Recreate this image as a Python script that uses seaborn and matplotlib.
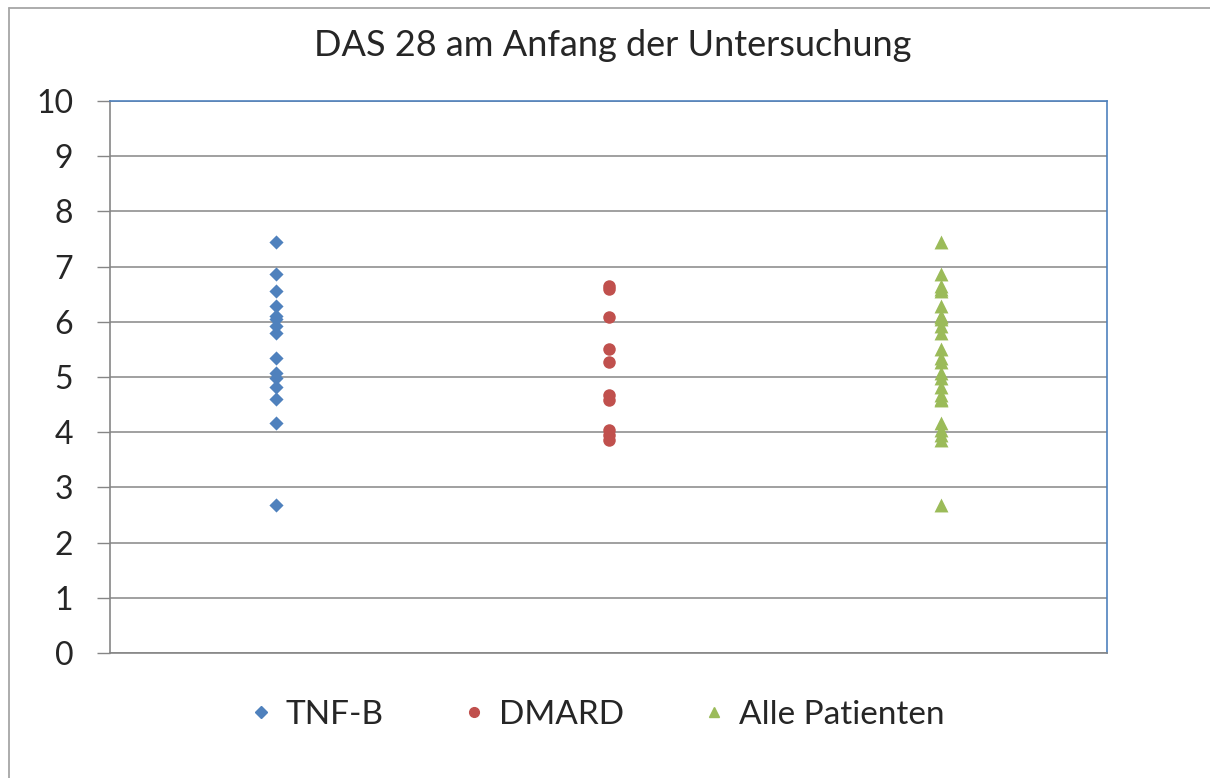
import matplotlib
matplotlib.use("Agg")
import matplotlib.pyplot as plt
import seaborn as sns
from matplotlib.lines import Line2D

categories = ["TNF-B", "DMARD", "Alle Patienten"]
tnf_b = [7.45, 6.87, 6.55, 6.28, 6.10, 6.05, 5.93, 5.80, 5.35, 5.08, 4.98, 4.82, 4.60, 4.17, 2.68]
dmard = [6.65, 6.60, 6.08, 5.50, 5.27, 4.67, 4.58, 4.04, 3.95, 3.86]
alle = [7.45, 6.87, 6.65, 6.60, 6.55, 6.28, 6.10, 6.08, 6.05, 5.93, 5.80, 5.50, 5.35,
        5.27, 5.08, 4.98, 4.82, 4.67, 4.60, 4.58, 4.17, 4.04, 3.95, 3.86, 2.68]
yticks = list(range(0, 11))
title = "DAS 28 am Anfang der Untersuchung"

colors = ["#4f81bd", "#c0504d", "#9bbb59"]
markers = ["D", "o", "^"]
sizes = [7.2, 9, 10]

sns.set_style("white")
plt.rcParams['font.family'] = ['Lato', 'DejaVu Sans']

fig = plt.figure(figsize=(12.1, 7.78), dpi=100)
ax = fig.add_axes([110/1210, 1-653/778, (1107-110)/1210, (653-101)/778])

series = [tnf_b, dmard, alle]
for cat, vals, c, m, s in zip(categories, series, colors, markers, sizes):
    sns.stripplot(x=[cat]*len(vals), y=vals, order=categories, jitter=False,
                  marker=m, color=c, size=s, linewidth=0, ax=ax, zorder=3)

ax.set_xlim(-0.5, 2.5)
ax.set_ylim(0, 10)
ax.set_yticks(yticks)
ax.set_yticklabels([str(t) for t in yticks], fontsize=23)
ax.set_xticks([])
ax.set_xlabel("")
ax.set_ylabel("")
ax.yaxis.grid(True, color="#868686", linewidth=1.1)
ax.set_axisbelow(True)
ax.tick_params(axis="y", length=9.5, width=1, color="#868686", pad=17, left=True)
for side in ["left", "bottom"]:
    ax.spines[side].set_color("#868686")
    ax.spines[side].set_linewidth(1.2)
for side in ["top", "right"]:
    ax.spines[side].set_color("#4f81bd")
    ax.spines[side].set_linewidth(1.2)
    ax.spines[side].set_visible(True)

fig.text(613/1210, 1-46/778, title, ha="center", va="center", fontsize=26)

handles = [Line2D([], [], linestyle="none", marker=m, color=c, markersize=7 if m != "D" else 6)
           for m, c in zip(markers, colors)]
fig.legend(handles, categories, loc="center", bbox_to_anchor=(594/1210, 1-715/778),
           ncol=3, frameon=False, fontsize=24, handletextpad=0.25, columnspacing=2.2,
           handlelength=1.0)

# outer chart border (top and left visible)
fig.add_artist(Line2D([8.5/1210, 8.5/1210], [0, 1-7.5/778], transform=fig.transFigure,
                      color="#a6a6a6", linewidth=1.3))
fig.add_artist(Line2D([8.5/1210, 1], [1-7.5/778, 1-7.5/778], transform=fig.transFigure,
                      color="#a6a6a6", linewidth=1.3))

fig.savefig("out.png", dpi=100, facecolor="white")
